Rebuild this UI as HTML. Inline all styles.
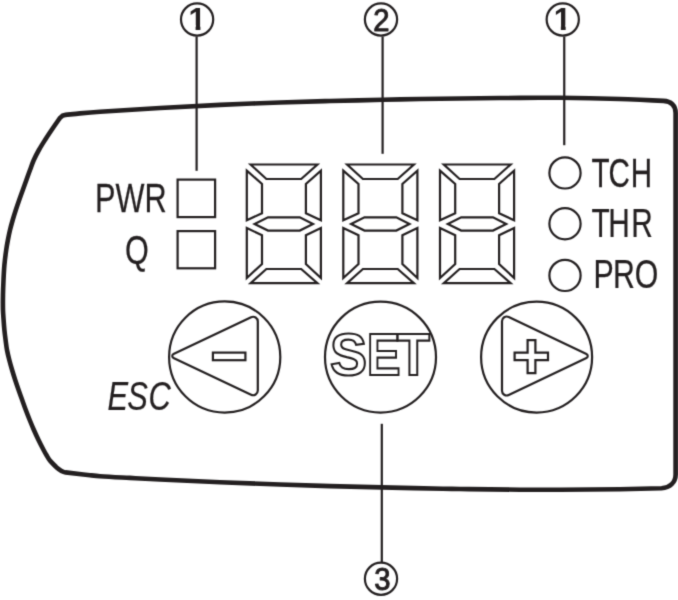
<!DOCTYPE html>
<html><head><meta charset="utf-8"><title>Panel</title>
<style>
html,body{margin:0;padding:0;background:#fff;}
body{width:678px;height:600px;overflow:hidden;}
svg{display:block;will-change:transform;}
text{font-family:"Liberation Sans",sans-serif;fill:#231f20;}
.num{font-size:31.5px;text-anchor:middle;stroke:#231f20;stroke-width:1px;stroke-linejoin:round;}
.one{font-size:31.2px;font-weight:bold;stroke:none;}
.lbl{font-size:40.3px;stroke:#231f20;stroke-width:0.25px;}
.thin{fill:none;stroke:#231f20;stroke-width:2.2;}
.seg polygon{fill:#fff;stroke:#231f20;stroke-width:2.2;stroke-linejoin:miter;}
.set{font-size:59px;font-weight:bold;fill:none;stroke:#231f20;stroke-width:2.2px;stroke-linejoin:miter;}
</style></head>
<body>
<svg width="678" height="600" viewBox="0 0 678 600">
<defs><filter id="soft" filterUnits="userSpaceOnUse" x="0" y="0" width="678" height="600" color-interpolation-filters="sRGB"><feConvolveMatrix order="3" kernelMatrix="0.0225 0.105 0.0225 0.105 0.49 0.105 0.0225 0.105 0.0225" edgeMode="duplicate" preserveAlpha="true"/></filter></defs>
<g filter="url(#soft)">
<rect width="678" height="600" fill="#fff"/>
<path d="M 675.6,113 C 675.6,105.5 671,101.2 663.5,100.9 L 663.50,100.90 C 655.67,100.53 647.83,100.14 640.00,99.80 C 633.33,99.51 626.67,99.21 620.00,99.00 C 610.00,98.68 600.00,98.40 590.00,98.20 C 580.00,98.00 570.00,97.84 560.00,97.80 C 546.67,97.74 533.33,97.83 520.00,97.90 C 506.67,97.97 493.33,98.05 480.00,98.20 C 460.00,98.42 440.00,98.67 420.00,99.00 C 407.67,99.20 395.33,99.53 383.00,99.80 C 365.33,100.19 347.67,100.54 330.00,101.00 C 313.33,101.44 296.66,101.91 280.00,102.50 C 260.00,103.21 239.99,103.98 220.00,104.90 C 199.99,105.82 179.99,106.85 160.00,108.00 C 139.99,109.15 119.99,110.45 100.00,111.80 C 93.33,112.25 86.66,112.80 80.00,113.40 C 75.16,113.83 70.33,114.40 65.50,114.90 Q 62.4,115.2 60.2,117.7 C 59.63,118.47 59.05,119.22 58.50,120.00 C 56.18,123.32 53.87,126.64 51.60,130.00 C 49.37,133.31 47.14,136.63 45.00,140.00 C 42.91,143.30 40.81,146.60 38.90,150.00 C 37.07,153.26 35.32,156.59 33.80,160.00 C 32.35,163.25 31.24,166.66 30.00,170.00 C 28.77,173.32 27.60,176.67 26.40,180.00 C 25.20,183.33 24.00,186.67 22.80,190.00 C 21.60,193.33 20.37,196.66 19.20,200.00 C 18.04,203.32 16.89,206.65 15.80,210.00 C 14.72,213.32 13.67,216.65 12.70,220.00 C 11.74,223.32 10.81,226.64 10.00,230.00 C 9.21,233.31 8.54,236.65 7.90,240.00 C 7.27,243.32 6.67,246.65 6.20,250.00 C 5.50,254.99 4.85,259.99 4.40,265.00 C 3.95,269.99 3.73,275.00 3.50,280.00 C 3.27,285.00 3.08,290.00 3.00,295.00 C 2.92,300.00 2.88,305.00 3.00,310.00 C 3.08,313.34 3.37,316.67 3.60,320.00 C 3.83,323.34 4.07,326.67 4.40,330.00 C 4.73,333.34 5.17,336.67 5.60,340.00 C 6.03,343.34 6.39,346.69 7.00,350.00 C 7.62,353.36 8.46,356.69 9.30,360.00 C 10.16,363.35 11.12,366.68 12.10,370.00 C 13.09,373.35 14.12,376.68 15.20,380.00 C 16.29,383.35 17.44,386.68 18.60,390.00 C 19.77,393.34 21.00,396.67 22.20,400.00 C 23.40,403.33 24.56,406.68 25.80,410.00 C 27.06,413.35 28.36,416.68 29.70,420.00 C 31.06,423.35 32.44,426.69 33.90,430.00 C 35.38,433.36 36.90,436.70 38.50,440.00 C 40.13,443.37 41.86,446.69 43.60,450.00 C 44.49,451.69 45.42,453.36 46.40,455.00 C 47.52,456.86 48.54,458.82 49.90,460.50 C 51.84,462.89 54.17,464.97 56.30,467.20 Q 61.6,471.8 65.5,472.4 C 73.67,473.33 81.83,474.30 90.00,475.20 C 93.33,475.57 96.66,475.97 100.00,476.20 C 109.99,476.87 120.00,477.35 130.00,477.90 C 140.00,478.45 150.00,479.02 160.00,479.50 C 180.00,480.46 200.00,481.37 220.00,482.20 C 240.00,483.03 260.00,483.79 280.00,484.50 C 296.66,485.09 313.33,485.62 330.00,486.10 C 347.20,486.59 364.40,487.00 381.60,487.40 C 402.07,487.87 422.53,488.28 443.00,488.70 C 448.67,488.82 454.33,488.93 460.00,489.00 C 480.00,489.26 500.00,489.54 520.00,489.70 C 533.33,489.81 546.67,489.87 560.00,489.80 C 580.00,489.70 600.00,489.52 620.00,489.20 C 633.84,488.98 647.67,488.53 661.50,488.20 C 670,487.8 675.6,482.5 675.6,474.5 Z" fill="none" stroke="#231f20" stroke-width="4.6" stroke-linejoin="round"/>
<g class="thin">
<line x1="196.6" y1="36.5" x2="196.6" y2="170.8"/>
<line x1="382.6" y1="36.5" x2="382.6" y2="153.8"/>
<line x1="564.25" y1="36.5" x2="564.25" y2="145.2"/>
<line x1="381.8" y1="423.8" x2="381.8" y2="562"/>
<rect x="177.6" y="179.6" width="37.5" height="37.5"/>
<rect x="177.6" y="231.1" width="37.5" height="37.2"/>
<circle cx="565" cy="172.9" r="15.6"/>
<circle cx="565" cy="223.75" r="15.6"/>
<circle cx="565" cy="275.4" r="15.6"/>
<circle cx="224.7" cy="357.0" r="55.6"/>
<circle cx="380.5" cy="357.1" r="55.5"/>
<circle cx="536.6" cy="357.1" r="55.5"/>
<path d="M 173.49,357.90 A 2.10,2.10 0 0 1 173.49,354.10 L 251.08,317.25 A 4.70,4.70 0 0 1 257.80,321.49 L 257.80,390.51 A 4.70,4.70 0 0 1 251.08,394.75 Z"/>
<rect x="212.9" y="352.6" width="32.5" height="7.6"/>
<path d="M 586.43,358.08 A 2.30,2.30 0 0 0 586.43,353.92 L 508.72,317.01 A 4.70,4.70 0 0 0 502.00,321.26 L 502.00,390.74 A 4.70,4.70 0 0 0 508.72,394.99 Z"/>
<path d="M 527.6,340.1 h7.8 v12.5 h12.6 v7.6 h-12.6 v12.9 h-7.8 v-12.9 h-13 v-7.6 h13 Z"/>
</g>
<g class="seg">
<g><polygon points="250.60,164.50 317.40,164.50 301.20,179.00 266.40,179.00"/><polygon points="246.80,170.60 262.00,184.00 262.00,213.20 246.80,220.30"/><polygon points="320.90,170.60 320.90,220.30 305.90,213.20 305.90,184.00"/><polygon points="254.60,224.10 268.00,217.30 299.80,217.30 313.00,224.10 299.80,230.60 268.00,230.60"/><polygon points="246.80,228.00 262.00,235.30 262.00,264.00 246.80,278.00"/><polygon points="320.90,228.00 320.90,278.00 305.90,264.00 305.90,235.30"/><polygon points="266.40,269.00 301.20,269.00 317.40,283.20 250.60,283.20"/></g>
<g><polygon points="347.10,164.50 413.90,164.50 397.70,179.00 362.90,179.00"/><polygon points="343.30,170.60 358.50,184.00 358.50,213.20 343.30,220.30"/><polygon points="417.40,170.60 417.40,220.30 402.40,213.20 402.40,184.00"/><polygon points="351.10,224.10 364.50,217.30 396.30,217.30 409.50,224.10 396.30,230.60 364.50,230.60"/><polygon points="343.30,228.00 358.50,235.30 358.50,264.00 343.30,278.00"/><polygon points="417.40,228.00 417.40,278.00 402.40,264.00 402.40,235.30"/><polygon points="362.90,269.00 397.70,269.00 413.90,283.20 347.10,283.20"/></g>
<g><polygon points="443.80,164.50 510.60,164.50 494.40,179.00 459.60,179.00"/><polygon points="440.00,170.60 455.20,184.00 455.20,213.20 440.00,220.30"/><polygon points="514.10,170.60 514.10,220.30 499.10,213.20 499.10,184.00"/><polygon points="447.80,224.10 461.20,217.30 493.00,217.30 506.20,224.10 493.00,230.60 461.20,230.60"/><polygon points="440.00,228.00 455.20,235.30 455.20,264.00 440.00,278.00"/><polygon points="514.10,228.00 514.10,278.00 499.10,264.00 499.10,235.30"/><polygon points="459.60,269.00 494.40,269.00 510.60,283.20 443.80,283.20"/></g>
</g>
<circle cx="197.10" cy="19.50" r="16.1" fill="none" stroke="#231f20" stroke-width="2.2"/><clipPath id="c1"><path d="M 188.10,5.60 h 20 v 19.4 h -7.7 v 7 h -4.8 v -7 h -7.5 Z"/></clipPath><g clip-path="url(#c1)"><text x="197.10" y="30.30" class="num one">1</text></g>
<circle cx="381.00" cy="19.50" r="16.1" fill="none" stroke="#231f20" stroke-width="2.2"/><text transform="translate(381.30,30.50) scale(0.93,1)" class="num">2</text>
<circle cx="562.75" cy="19.50" r="16.1" fill="none" stroke="#231f20" stroke-width="2.2"/><clipPath id="c2"><path d="M 553.35,5.60 h 20 v 19.4 h -7.7 v 7 h -4.8 v -7 h -7.5 Z"/></clipPath><g clip-path="url(#c2)"><text x="562.35" y="30.30" class="num one">1</text></g>
<circle cx="381.00" cy="578.75" r="16.1" fill="none" stroke="#231f20" stroke-width="2.2"/><text transform="translate(382.40,590.35) scale(0.93,1)" class="num">3</text>

<text class="lbl" transform="translate(95.1,211.5) scale(0.762,1)">PWR</text>
<text class="lbl" transform="translate(125.0,263.5) scale(0.76,1)">Q</text>
<text class="lbl" dx="0 -1.5 1.3" transform="translate(591.5,186.6) scale(0.735,1)">TCH</text>
<text class="lbl" dx="0 -1.9 1.9" transform="translate(591.5,237.0) scale(0.74,1)">THR</text>
<text class="lbl" dx="0 -0.9 0" transform="translate(593.4,287.8) scale(0.752,1)">PRO</text>
<text class="lbl" dx="0 -0.9 0.9" style="font-style:italic" transform="translate(107.4,409.8) scale(0.765,1)">ESC</text>
<text class="set" y="375.3"><tspan x="330" textLength="37" lengthAdjust="spacingAndGlyphs">S</tspan><tspan x="366.7" textLength="33.8" lengthAdjust="spacingAndGlyphs">E</tspan><tspan x="396.8" textLength="33.2" lengthAdjust="spacingAndGlyphs">T</tspan></text>
</g>
</svg>
</body></html>
